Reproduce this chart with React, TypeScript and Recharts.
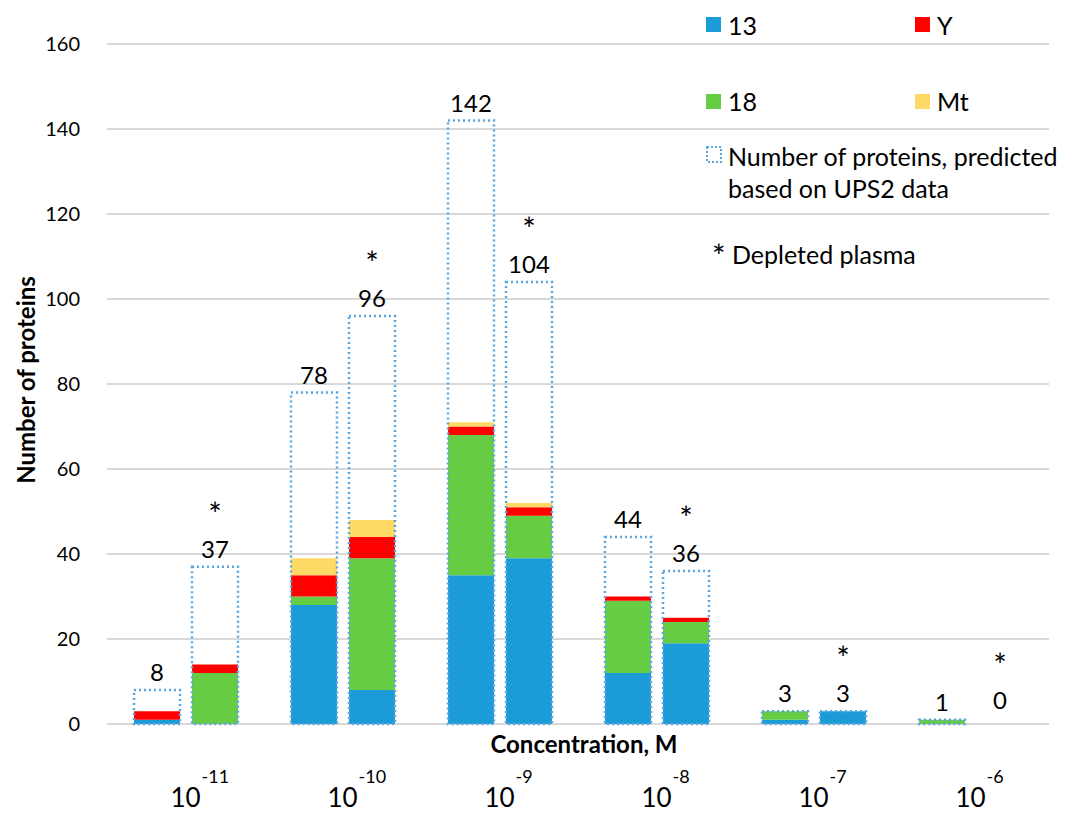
import { Bar, BarChart, CartesianGrid, LabelList, XAxis, YAxis } from "recharts";

// exponents of the concentration bins (10^x M)
const exponents = ["-11", "-10", "-9", "-8", "-7", "-6"];

// plasma, identified proteins per chromosome
const plasma13 = [1, 28, 35, 12, 1, 0];
const plasma18 = [0, 2, 33, 17, 2, 1];
const plasmaY = [2, 5, 2, 1, 0, 0];
const plasmaMt = [0, 4, 1, 0, 0, 0];

// depleted plasma
const depleted13 = [0, 8, 39, 19, 3, 0];
const depleted18 = [12, 31, 10, 5, 0, 0];
const depletedY = [2, 5, 2, 1, 0, 0];
const depletedMt = [0, 4, 1, 0, 0, 0];

// predicted from UPS2 data
const predictedPlasma = [8, 78, 142, 44, 3, 1];
const predictedDepleted = [37, 96, 104, 36, 3, 0];

const yTicks = [0, 20, 40, 60, 80, 100, 120, 140, 160];

const BLUE = "#1b9bd7";
const GREEN = "#66cc44";
const RED = "#ff0000";
const YELLOW = "#ffd966";
const OUTLINE = "#5aa6e0";
const FONT = "Lato, 'Open Sans', sans-serif";

const W = 1060;
const H = 806;
const PLOT_BOTTOM = 716;

const data = exponents.map((exp, i) => ({
  exp,
  p13: plasma13[i],
  p18: plasma18[i],
  pY: plasmaY[i],
  pMt: plasmaMt[i],
  d13: depleted13[i],
  d18: depleted18[i],
  dY: depletedY[i],
  dMt: depletedMt[i],
  predP: predictedPlasma[i],
  predD: predictedDepleted[i],
}));

function YTick({ y, payload }: any) {
  return (
    <text x={72} y={y + 7} textAnchor="end" fontSize={20} fill="#000" fontFamily={FONT}>
      {payload.value}
    </text>
  );
}

function XTick({ x, payload }: any) {
  return (
    <g fontFamily={FONT} fill="#000">
      <text x={x} y={PLOT_BOTTOM + 83} textAnchor="middle" fontSize={26}>
        10
      </text>
      <text x={x + 16} y={PLOT_BOTTOM + 59} fontSize={18}>
        {payload.value}
      </text>
    </g>
  );
}

// dotted outline; a zero count leaves no box, only its label
function OutlineShape(props: any) {
  const { x, y, width, height, value } = props;
  const v = Array.isArray(value) ? value[1] - value[0] : value;
  if (!v) return <g />;
  return (
    <rect
      x={x}
      y={y}
      width={width}
      height={height}
      fill="none"
      stroke={OUTLINE}
      strokeWidth={2.5}
      strokeDasharray="2 3"
    />
  );
}

function valueLabel(star: boolean) {
  return (props: any) => {
    const { x, y, width, height, value } = props;
    const cx = Number(x) + Number(width) / 2;
    // zero bars get a 1px min height, so measure from the bar bottom
    const top = value ? Number(y) : Number(y) + Number(height) - 6;
    return (
      <g fontFamily={FONT} fill="#000">
        <text x={cx} y={top - 9} textAnchor="middle" fontSize={24}>
          {value}
        </text>
        {star && (
          <text x={cx} y={top - 41} textAnchor="middle" fontSize={32}>
            *
          </text>
        )}
      </g>
    );
  };
}

function Overlay() {
  const txt = { fontFamily: FONT, fontSize: 25, fill: "#000" };
  return (
    <svg
      width={W}
      height={H}
      style={{ position: "absolute", left: 0, top: 0, pointerEvents: "none" }}
    >
      <rect x={698} y={9} width={15} height={15} fill={BLUE} />
      <text x={720} y={27} {...txt}>13</text>
      <rect x={907} y={9} width={15} height={15} fill={RED} />
      <text x={929} y={27} {...txt}>Y</text>
      <rect x={698} y={86} width={15} height={15} fill={GREEN} />
      <text x={720} y={103} {...txt}>18</text>
      <rect x={907} y={86} width={15} height={15} fill={YELLOW} />
      <text x={929} y={103} {...txt}>Mt</text>
      <rect
        x={699}
        y={139}
        width={14}
        height={15}
        fill="none"
        stroke={OUTLINE}
        strokeWidth={2}
        strokeDasharray="2 2"
      />
      <text x={720} y={158} {...txt}>Number of proteins, predicted</text>
      <text x={720} y={190} {...txt}>based on UPS2 data</text>
      <text x={704} y={256} {...txt}>
        <tspan fontSize={32} dy={4}>*</tspan>
        <tspan dy={-4}> Depleted plasma</tspan>
      </text>

      <text
        transform="translate(17, 372) rotate(-90)"
        textAnchor="middle"
        dominantBaseline="central"
        fontFamily={FONT}
        fontSize={24}
        fontWeight={700}
        fill="#000"
      >
        Number of proteins
      </text>
      <text
        x={576}
        y={745}
        textAnchor="middle"
        fontFamily={FONT}
        fontSize={24}
        fontWeight={700}
        fill="#000"
      >
        Concentration, M
      </text>
    </svg>
  );
}

export default function App() {
  return (
    <div style={{ position: "relative", width: W, height: H, background: "#fff" }}>
      <BarChart
        width={W}
        height={H}
        data={data}
        margin={{ top: 36, right: 19, bottom: 0, left: 0 }}
        barSize={46}
        barGap={12}
      >
        <CartesianGrid vertical={false} stroke="#d9d9d9" strokeWidth={2} />
        <XAxis
          xAxisId="main"
          dataKey="exp"
          height={90}
          axisLine={false}
          tickLine={false}
          tick={<XTick />}
          interval={0}
        />
        <XAxis xAxisId="outline" dataKey="exp" hide />
        <YAxis
          domain={[0, 160]}
          ticks={yTicks}
          width={99}
          axisLine={false}
          tickLine={false}
          tick={<YTick />}
        />

        <Bar xAxisId="main" dataKey="p13" stackId="p" fill={BLUE} isAnimationActive={false} />
        <Bar xAxisId="main" dataKey="p18" stackId="p" fill={GREEN} isAnimationActive={false} />
        <Bar xAxisId="main" dataKey="pY" stackId="p" fill={RED} isAnimationActive={false} />
        <Bar xAxisId="main" dataKey="pMt" stackId="p" fill={YELLOW} isAnimationActive={false} />
        <Bar xAxisId="main" dataKey="d13" stackId="d" fill={BLUE} isAnimationActive={false} />
        <Bar xAxisId="main" dataKey="d18" stackId="d" fill={GREEN} isAnimationActive={false} />
        <Bar xAxisId="main" dataKey="dY" stackId="d" fill={RED} isAnimationActive={false} />
        <Bar xAxisId="main" dataKey="dMt" stackId="d" fill={YELLOW} isAnimationActive={false} />

        {/* dotted outlines for the predicted counts, drawn over the stacks */}
        <Bar
          xAxisId="outline"
          dataKey="predP"
          shape={<OutlineShape />}
          minPointSize={1}
          isAnimationActive={false}
        >
          <LabelList dataKey="predP" content={valueLabel(false)} />
        </Bar>
        <Bar
          xAxisId="outline"
          dataKey="predD"
          shape={<OutlineShape />}
          minPointSize={1}
          isAnimationActive={false}
        >
          <LabelList dataKey="predD" content={valueLabel(true)} />
        </Bar>
      </BarChart>
      <Overlay />
    </div>
  );
}
